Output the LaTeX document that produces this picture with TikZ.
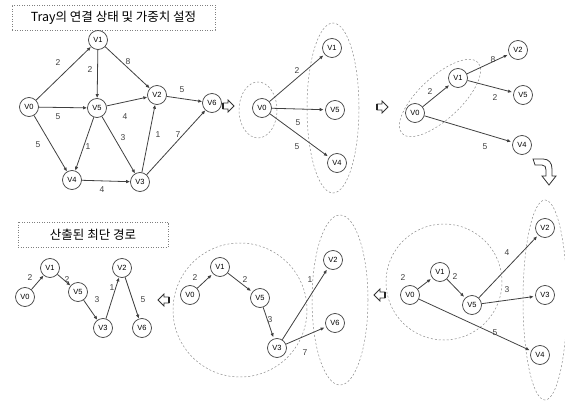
\documentclass[tikz,border=0pt]{standalone}
\usepackage{fontspec}
\setmainfont{Liberation Sans}
\newfontfamily\krfont{Noto Sans CJK KR}
\usetikzlibrary{arrows.meta,shapes.geometric}
\begin{document}
\begin{tikzpicture}[x=1pt,y=-1pt,
  vtx/.style={circle,draw=black!75,line width=0.7pt,minimum size=19pt,inner sep=0pt,font=\fontsize{7.5}{7.5}\selectfont},
  arr/.style={draw=black!75,line width=0.8pt,-{Latex[length=4pt,width=3.5pt]}},
  arrs/.style={arr,shorten >=1.5pt},
  lbl/.style={font=\fontsize{8.5}{8.5}\selectfont,text=black!75,inner sep=0pt},
  grp/.style={draw=black!45,ellipse,inner sep=0pt,line width=0.5pt,dash pattern=on 2pt off 2pt},
  ttl/.style={rectangle,draw=black!50,dash pattern=on 1pt off 1.5pt,line width=0.5pt,font=\krfont\fontsize{12.5}{12.5}\selectfont,inner sep=0pt},
  harrow/.pic={\draw[line width=0.8pt,draw=black!80,fill=white] (-5,-3) -- (0,-3) -- (0,-6) -- (6,0) -- (0,6) -- (0,3) -- (-5,3) -- cycle;
               \draw[line width=1.8pt,draw=black!85] (-5,-3) -- (-5,3);}
]
\useasboundingbox (0,0) rectangle (565,401);

% ---------- Graph 1 ----------
\node[ttl,minimum width=203pt,minimum height=25pt] (t1) at (113.5,17.5) {Tray의 연결 상태 및 가중치 설정};
\node[vtx] (a1) at (98,40) {V1};
\node[vtx] (a0) at (29,107) {V0};
\node[vtx] (a5) at (97,108) {V5};
\node[vtx] (a2) at (157,95) {V2};
\node[vtx] (a6) at (212,103) {V6};
\node[vtx] (a4) at (72,180) {V4};
\node[vtx] (a3) at (140,182) {V3};
\draw[arr] (a0) -- (a1);
\draw[arr] (a1) -- (a5);
\draw[arr] (a1) -- (a2);
\draw[arr] (a2) -- (a6);
\draw[arr] (a0) -- (a5);
\draw[arr] (a5) -- (a2);
\draw[arr] (a0) -- (a4);
\draw[arr] (a5) -- (a4);
\draw[arr] (a5) -- (a3);
\draw[arr] (a3) -- (a2);
\draw[arr] (a3) -- (a6);
\draw[arr] (a4) -- (a3);
\node[lbl] (la01) at (58,63) {2};
\node[lbl] (la15) at (90,70) {2};
\node[lbl] (la12) at (128,62) {8};
\node[lbl] (la26) at (182,90) {5};
\node[lbl] (la05) at (58,117) {5};
\node[lbl] (la52) at (125,117) {4};
\node[lbl] (la04) at (38,145) {5};
\node[lbl] (la54) at (88,147) {1};
\node[lbl] (la53) at (123,138) {3};
\node[lbl] (la32) at (158,135) {1};
\node[lbl] (la36) at (178,135) {7};
\node[lbl] (la43) at (102,190) {4};
\pic at (228,106) {harrow};

% ---------- Graph 2 ----------
\node[grp,minimum width=38pt,minimum height=56pt] (g2a) at (258,110) {};
\node[grp,minimum width=52pt,minimum height=170pt] (g2b) at (333,108) {};
\node[vtx] (b0) at (262,108) {V0};
\node[vtx] (b1) at (332,48) {V1};
\node[vtx] (b5) at (335,110) {V5};
\node[vtx] (b4) at (337,163) {V4};
\draw[arrs] (b0) -- (b1);
\draw[arrs] (b0) -- (b5);
\draw[arrs] (b0) -- (b4);
\node[lbl] (lb01) at (297,71) {2};
\node[lbl] (lb05) at (298,123) {5};
\node[lbl] (lb04) at (297,147) {5};
\pic at (382,107) {harrow};

% ---------- Graph 3 ----------
\node[grp,minimum width=104pt,minimum height=42pt,rotate=43] (g3a) at (440,98) {};
\node[vtx] (c0) at (415,113) {V0};
\node[vtx] (c1) at (458,78) {V1};
\node[vtx] (c2) at (518,50) {V2};
\node[vtx] (c5) at (523,95) {V5};
\node[vtx] (c4) at (522,145) {V4};
\draw[arrs] (c0) -- (c1);
\draw[arrs] (c1) -- (c2);
\draw[arrs] (c1) -- (c5);
\draw[arrs] (c0) -- (c4);
\node[lbl] (lc01) at (430,92) {2};
\node[lbl] (lc12) at (493,60) {8};
\node[lbl] (lc15) at (495,98) {2};
\node[lbl] (lc04) at (485,147) {5};
\draw[line width=0.8pt,draw=black!80,fill=white]
  (533,159) -- (543,159) .. controls (549,159) and (552,163) .. (552,169)
  -- (552,176) -- (556,176) -- (549,185) -- (542,176) -- (546,176) -- (546,170)
  .. controls (546,167) and (545,165) .. (542,165) -- (535,165) -- cycle;

% ---------- Graph 4 ----------
\node[ttl,minimum width=150pt,minimum height=25pt] (t2) at (93,234.5) {산출된 최단 경로};
\node[vtx] (d0) at (25,297) {V0};
\node[vtx] (d1) at (50,268) {V1};
\node[vtx] (d5) at (78,292) {V5};
\node[vtx] (d3) at (103,328) {V3};
\node[vtx] (d2) at (122,268) {V2};
\node[vtx] (d6) at (142,328) {V6};
\draw[arr] (d0) -- (d1);
\draw[arr] (d1) -- (d5);
\draw[arr] (d5) -- (d3);
\draw[arr] (d3) -- (d2);
\draw[arr] (d2) -- (d6);
\node[lbl] (ld01) at (30,278) {2};
\node[lbl] (ld15) at (67,280) {2};
\node[lbl] (ld53) at (97,300) {3};
\node[lbl] (ld32) at (112,288) {1};
\node[lbl] (ld26) at (143,300) {5};
\pic[rotate=180] at (164,300) {harrow};

% ---------- Graph 5 ----------
\node[grp,minimum size=134pt,circle] (g5a) at (240,310) {};
\node[grp,minimum width=56pt,minimum height=170pt] (g5b) at (340,300) {};
\node[vtx] (e0) at (190,295) {V0};
\node[vtx] (e1) at (220,267) {V1};
\node[vtx] (e5) at (260,298) {V5};
\node[vtx] (e3) at (277,348) {V3};
\node[vtx] (e2) at (333,260) {V2};
\node[vtx] (e6) at (335,323) {V6};
\draw[arrs] (e0) -- (e1);
\draw[arrs] (e1) -- (e5);
\draw[arrs] (e5) -- (e3);
\draw[arrs] (e3) -- (e2);
\draw[arrs] (e3) -- (e6);
\node[lbl] (le01) at (195,278) {2};
\node[lbl] (le15) at (245,280) {2};
\node[lbl] (le53) at (270,320) {3};
\node[lbl] (le32) at (310,280) {1};
\node[lbl] (le36) at (305,353) {7};
\pic[rotate=180] at (380,295) {harrow};

% ---------- Graph 6 ----------
\node[grp,minimum size=116pt,circle] (g6a) at (444,282) {};
\node[grp,minimum width=44pt,minimum height=200pt] (g6b) at (545,300) {};
\node[vtx] (f0) at (410,295) {V0};
\node[vtx] (f1) at (440,272) {V1};
\node[vtx] (f5) at (472,305) {V5};
\node[vtx] (f2) at (545,228) {V2};
\node[vtx] (f3) at (545,295) {V3};
\node[vtx] (f4) at (540,355) {V4};
\draw[arrs] (f0) -- (f1);
\draw[arrs] (f1) -- (f5);
\draw[arrs] (f5) -- (f2);
\draw[arrs] (f5) -- (f3);
\draw[arrs] (f0) -- (f4);
\node[lbl] (lf01) at (403,278) {2};
\node[lbl] (lf15) at (455,277) {2};
\node[lbl] (lf52) at (507,253) {4};
\node[lbl] (lf53) at (507,290) {3};
\node[lbl] (lf04) at (495,333) {5};
\end{tikzpicture}
\end{document}
